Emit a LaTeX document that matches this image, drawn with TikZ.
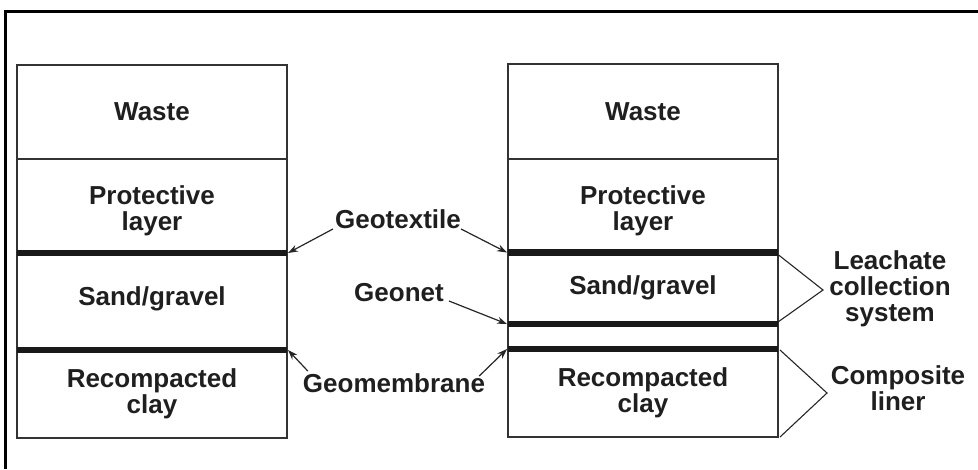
\documentclass[tikz,border=0pt]{standalone}
\usepackage{fontspec}
\setmainfont{Liberation Sans}
\usetikzlibrary{arrows.meta}
\begin{document}
\begin{tikzpicture}[x=1pt,y=-1pt,
  txt/.style={font=\fontsize{26}{26}\selectfont\bfseries, text=black!88, align=center, inner sep=0pt},
  layer/.style={draw=black!80, line width=1.4pt, minimum width=270pt, inner sep=0pt, outer sep=0pt, txt},
  band/.style={line width=6.5pt, black!90},
  arr/.style={line width=1.2pt, black!85, -{Stealth[length=10pt,width=7pt]}},
  brack/.style={line width=1.1pt, black!85}
]
\useasboundingbox (0,0) rectangle (978,469);
% frame (only top and left visible)
\draw[line width=3pt] (5.5,469) -- (5.5,11) -- (978,11);

% left column
\node[layer, minimum height=94pt] (lw) at (152,112) {Waste};
\node[layer, minimum height=94pt, anchor=north] (lp) at (lw.south) {};
\node[txt] (lpt) at ([yshift=-5pt]lp.center) {Protective\\layer};
\node[layer, minimum height=97pt, anchor=north] (ls) at (lp.south) {};
\node[txt] (lst) at ([yshift=3pt]ls.center) {Sand/gravel};
\node[layer, minimum height=88pt, anchor=north] (lc) at (ls.south) {Recompacted\\clay};
\draw[band] (lp.south west) -- (lp.south east);
\draw[band] (ls.south west) -- (ls.south east);

% right column
\node[layer, minimum height=95pt] (rw) at (643,111.5) {Waste};
\node[layer, minimum height=93.5pt, anchor=north] (rp) at (rw.south) {};
\node[txt] (rpt) at ([yshift=-5pt]rp.center) {Protective\\layer};
\node[layer, minimum height=71.5pt, anchor=north] (rs) at (rp.south) {Sand/gravel};
\node[layer, minimum height=25pt, anchor=north] (rg) at (rs.south) {};
\node[layer, minimum height=88pt, anchor=north] (rc) at (rg.south) {Recompacted\\clay};
\draw[band] (rp.south west) -- (rp.south east);
\draw[band] (rs.south west) -- (rs.south east);
\draw[band] (rg.south west) -- (rg.south east);

% middle labels
\node[txt] (geotex) at (398,219) {Geotextile};
\node[txt] (geonet) at (399,293) {Geonet};
\node[txt] (geomem) at (394,383) {Geomembrane};

\draw[arr] (geotex.west) ++(-2,10) -- ([xshift=1pt]lp.south east);
\draw[arr] (geotex.east) ++(0,10) -- ([xshift=-1pt]rp.south west);
\draw[arr] (geonet.east) ++(5,8) -- ([xshift=-1pt]rs.south west);
\draw[arr] (geomem.west) ++(5,-12) -- ([xshift=1pt]ls.south east);
\draw[arr] (geomem.east) ++(-6,-7) -- ([xshift=-1pt]rg.south west);

% right labels and brackets
\node[txt] (leach) at (890,289) {Leachate\\collection\\system};
\node[txt] (comp) at (898,388) {Composite\\liner};
\coordinate (lt) at (823,290);
\coordinate (ct) at (827,393);
\draw[brack] ([yshift=-2pt]rp.south east) -- (lt) -- ([yshift=2pt]rs.south east);
\draw[brack] ([xshift=2pt,yshift=-1pt]rg.south east) -- (ct) -- ([xshift=2pt]rc.south east);
\end{tikzpicture}
\end{document}
